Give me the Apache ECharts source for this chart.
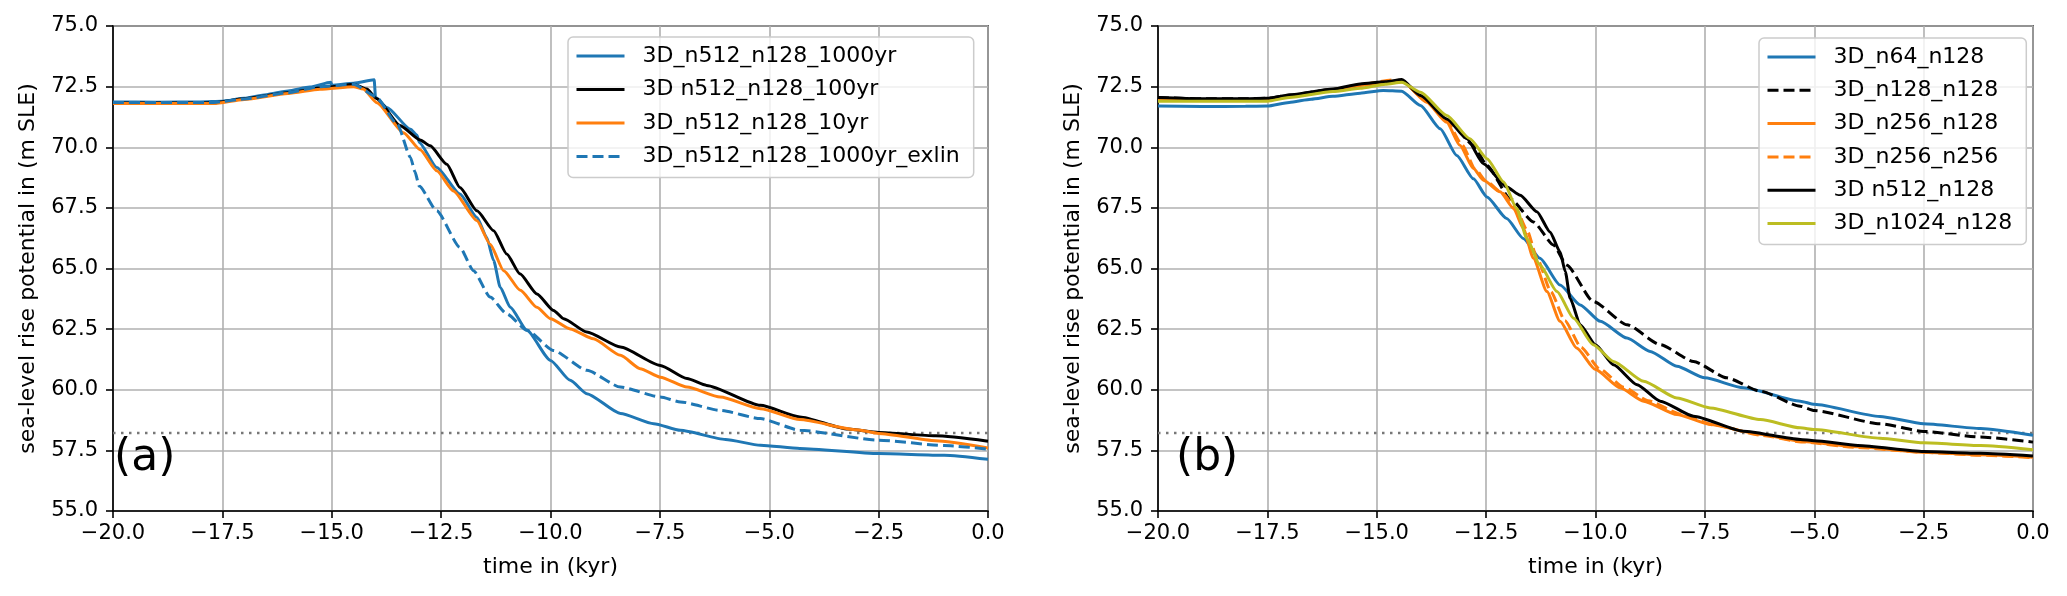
<!DOCTYPE html>
<html>
<head>
<meta charset="utf-8">
<script src="https://cdn.jsdelivr.net/npm/echarts@6/dist/echarts.min.js"></script>
<style>
html,body{margin:0;padding:0;background:#fff;}
#chart{width:2067px;height:596px;}
</style>
</head>
<body>
<div id="chart"></div>
<script>
// ---------- data (time in kyr, sea-level rise potential in m SLE) ----------
const xTicks = [-20, -17.5, -15, -12.5, -10, -7.5, -5, -2.5, 0];
const yTicks = [55, 57.5, 60, 62.5, 65, 67.5, 70, 72.5, 75];
const referenceLevel = 58.22;

// panel (a)
const a_n512_1000yr = [[-20,71.87],[-19,71.86],[-18,71.87],[-17.5,71.9],[-17,72.02],[-16.5,72.17],[-16,72.32],[-15.5,72.48],[-15.02,72.68],[-15.0,72.55],[-14.5,72.64],[-14.03,72.78],[-14.0,72.05],[-13.74,71.64],[-13.2,70.74],[-13.05,70.5],[-13.0,70.2],[-12.6,69.17],[-12.07,68.07],[-11.68,67.1],[-11.46,66.29],[-11.3,65.33],[-11.15,64.23],[-10.92,63.4],[-10.54,62.45],[-10.0,61.21],[-9.55,60.39],[-9.17,59.84],[-8.4,59.02],[-7.64,58.6],[-7.03,58.33],[-6.0,57.95],[-5.2,57.71],[-4.3,57.58],[-2.5,57.37],[-1.0,57.3],[0,57.13]];
const a_n512_100yr = [[-20,71.82],[-18.5,71.82],[-17.7,71.83],[-17,72.0],[-16,72.25],[-15.2,72.45],[-14.5,72.6],[-14.2,72.4],[-13.97,72.0],[-13.44,70.9],[-12.98,70.3],[-12.75,70.06],[-12.37,69.3],[-12.07,68.34],[-11.68,67.38],[-11.3,66.56],[-11.0,65.6],[-10.7,64.78],[-10.31,63.95],[-9.93,63.27],[-9.7,62.93],[-9.17,62.38],[-8.4,61.76],[-7.49,61.0],[-6.88,60.46],[-6.43,60.18],[-5.2,59.36],[-4.3,58.88],[-3.2,58.38],[-2.5,58.24],[-1.2,58.1],[0,57.88]];
const a_n512_10yr = [[-20,71.8],[-17.7,71.8],[-17,71.97],[-16,72.22],[-15.27,72.39],[-14.5,72.5],[-14.28,72.4],[-13.97,71.84],[-13.36,70.6],[-12.98,69.9],[-12.6,69.03],[-12.22,68.2],[-11.68,66.97],[-11.38,66.0],[-11.07,64.91],[-10.69,64.1],[-10.31,63.4],[-10.0,62.93],[-9.55,62.51],[-9.02,62.1],[-8.4,61.42],[-7.95,60.87],[-7.49,60.52],[-6.88,60.11],[-6.12,59.7],[-5.2,59.22],[-4.3,58.77],[-3.0,58.35],[-2.5,58.2],[-1.2,57.9],[0,57.6]];
const a_n512_1000yr_exlin = [[-20,71.85],[-17.7,71.85],[-17,71.99],[-16,72.25],[-15.27,72.5],[-14.5,72.6],[-14.0,72.1],[-13.5,70.95],[-13.2,69.58],[-13.1,69.0],[-13.0,68.4],[-12.6,67.38],[-12.07,65.87],[-11.76,64.91],[-11.38,63.82],[-11.0,63.13],[-10.54,62.45],[-9.93,61.62],[-9.17,60.8],[-8.4,60.11],[-7.49,59.7],[-7.03,59.5],[-6.12,59.15],[-5.2,58.81],[-4.3,58.33],[-2.5,57.92],[-1.0,57.7],[0,57.55]];

// panel (b)
const b_n64_n128 = [[-20,71.7],[-19,71.68],[-18,71.69],[-17.5,71.7],[-17,71.85],[-16.5,71.98],[-16,72.1],[-15.38,72.23],[-14.85,72.34],[-14.43,72.31],[-14.0,71.72],[-13.55,70.76],[-13.17,69.66],[-12.79,68.7],[-12.48,67.95],[-12.03,67.06],[-11.65,66.24],[-11.27,65.42],[-10.81,64.32],[-10.35,63.5],[-9.89,62.82],[-9.28,62.13],[-8.75,61.58],[-8.14,60.97],[-7.5,60.49],[-6.62,60.08],[-5.32,59.53],[-5.0,59.4],[-3.5,58.9],[-2.5,58.6],[-1.2,58.4],[0,58.12]];
const b_n128_n128 = [[-20,72.05],[-19,72.0],[-18,72.0],[-17.5,72.02],[-17,72.15],[-16,72.38],[-15.38,72.55],[-14.8,72.68],[-14.43,72.75],[-14.0,72.13],[-13.32,71.03],[-12.79,70.08],[-12.48,69.25],[-11.95,67.88],[-11.42,66.92],[-10.96,65.97],[-10.66,65.14],[-10.05,63.64],[-9.28,62.68],[-8.52,61.86],[-7.76,61.17],[-7.0,60.49],[-6.23,59.94],[-5.32,59.32],[-5.0,59.14],[-3.5,58.6],[-2.5,58.28],[-1.2,58.05],[0,57.84]];
const b_n256_n128 = [[-20,71.95],[-17.5,71.95],[-17,72.08],[-16,72.35],[-15.38,72.55],[-14.62,72.72],[-14.39,72.68],[-13.86,71.86],[-13.4,71.03],[-13.1,70.08],[-12.79,69.12],[-12.56,68.64],[-12.18,68.16],[-11.87,67.47],[-11.65,66.65],[-11.42,65.42],[-11.11,64.05],[-10.81,62.82],[-10.43,61.72],[-10.0,60.83],[-9.44,60.08],[-8.9,59.53],[-8.14,58.98],[-7.38,58.57],[-6.23,58.16],[-5.32,57.88],[-4.0,57.65],[-2.5,57.42],[-1.2,57.32],[0,57.22]];
const b_n256_n256 = [[-20,71.97],[-17.5,71.97],[-17,72.1],[-16,72.38],[-15.38,72.58],[-14.62,72.78],[-14.39,72.7],[-13.86,71.9],[-13.4,71.08],[-13.05,70.1],[-12.75,69.1],[-12.5,68.6],[-12.12,68.1],[-11.8,67.4],[-11.57,66.6],[-11.33,65.4],[-11.02,64.05],[-10.7,62.85],[-10.33,61.75],[-9.9,60.85],[-9.35,60.1],[-8.8,59.55],[-8.05,59.0],[-7.3,58.55],[-6.2,58.12],[-5.3,57.85],[-4.0,57.62],[-2.5,57.42],[-1.2,57.3],[0,57.2]];
const b_n512_n128 = [[-20,72.05],[-19,72.0],[-18,72.0],[-17.5,72.02],[-17,72.15],[-16,72.4],[-15.38,72.61],[-14.8,72.7],[-14.43,72.79],[-14.0,72.13],[-13.4,71.17],[-12.94,70.35],[-12.56,69.32],[-12.03,68.36],[-11.72,68.02],[-11.34,67.34],[-11.04,66.51],[-10.81,65.69],[-10.69,64.87],[-10.58,63.77],[-10.35,62.68],[-10.0,61.86],[-9.59,61.03],[-9.05,60.21],[-8.52,59.53],[-7.76,58.91],[-6.62,58.29],[-5.32,57.95],[-5.0,57.9],[-4.0,57.7],[-2.5,57.45],[-1.2,57.38],[0,57.27]];
const b_n1024_n128 = [[-20,71.9],[-17.5,71.9],[-17,72.05],[-16,72.3],[-15.38,72.43],[-14.8,72.6],[-14.43,72.68],[-14.0,72.27],[-13.4,71.31],[-12.87,70.35],[-12.48,69.53],[-12.1,68.57],[-11.8,67.47],[-11.57,66.24],[-11.27,65.14],[-10.88,64.05],[-10.5,62.95],[-10.05,61.86],[-9.59,61.17],[-8.9,60.35],[-8.14,59.66],[-7.38,59.25],[-6.23,58.77],[-5.32,58.43],[-5.0,58.36],[-3.5,58.0],[-2.5,57.81],[-1.2,57.7],[0,57.53]];

// ---------- styling / build ----------
const FONT = 'DejaVu Sans';
const BLUE = '#1f77b4', ORANGE = '#ff7f0e', BLACK = '#000000', OLIVE = '#bcbd22';
const LW = 3;
const DASH = [11, 5];

function fmt(v){ return (v < 0 ? '\u2212' : '') + Math.abs(v).toFixed(1); }

function xAxisFor(i){
  return {
    type:'value', gridIndex:i, min:xTicks[0], max:xTicks[xTicks.length-1], interval:2.5,
    name:'time in (kyr)', nameLocation:'middle', nameGap:45,
    nameTextStyle:{fontFamily:FONT, fontSize:22, color:'#000'},
    axisLine:{show:true, onZero:false, lineStyle:{color:'#000', width:1.6}},
    axisTick:{show:true, inside:false, length:7, lineStyle:{color:'#000', width:1.6}},
    axisLabel:{show:true, margin:12, fontFamily:FONT, fontSize:21, color:'#000', formatter:fmt, showMinLabel:true, showMaxLabel:true},
    splitLine:{show:true, lineStyle:{color:'#b0b0b0', width:1.6}}
  };
}
function yAxisFor(i){
  return {
    type:'value', gridIndex:i, min:yTicks[0], max:yTicks[yTicks.length-1], interval:2.5,
    name:'sea-level rise potential in (m SLE)', nameLocation:'middle', nameGap:74,
    nameTextStyle:{fontFamily:FONT, fontSize:22, color:'#000'},
    axisLine:{show:true, onZero:false, lineStyle:{color:'#000', width:1.6}},
    axisTick:{show:true, inside:false, length:7, lineStyle:{color:'#000', width:1.6}},
    axisLabel:{show:true, margin:15, fontFamily:FONT, fontSize:21, color:'#000', formatter:fmt, showMinLabel:true, showMaxLabel:true},
    splitLine:{show:true, lineStyle:{color:'#b0b0b0', width:1.6}}
  };
}
function line(name, data, color, dashed, gi){
  return {
    type:'line', name:name, data:data, xAxisIndex:gi, yAxisIndex:gi,
    showSymbol:false, symbol:'none', smooth:0.2, smoothMonotone:'x', silent:true,
    lineStyle:{color:color, width:LW, type: dashed ? DASH : 'solid'},
    itemStyle:{color:color}
  };
}
function refLine(gi){
  return {
    type:'line', name:'ref'+gi, data:[[xTicks[0], referenceLevel],[xTicks[xTicks.length-1], referenceLevel]],
    xAxisIndex:gi, yAxisIndex:gi, showSymbol:false, symbol:'none', silent:true, z:1,
    lineStyle:{color:'#777777', width:2.5, type:[2.5,5.5]}
  };
}

const legendCommon = {
  orient:'vertical', itemWidth:48, itemHeight:14, itemGap:11.5,
  backgroundColor:'rgba(255,255,255,0.8)', borderColor:'#cccccc', borderWidth:1.5, borderRadius:5,
  textStyle:{fontFamily:FONT, fontSize:22, color:'#000', lineHeight:22, padding:[0,0,0,13]},
  itemStyle:{opacity:0},
  lineStyle:{width:LW},
  selectedMode:false
};

const chart = echarts.init(document.getElementById('chart'), null, {renderer:'canvas'});
chart.setOption({
  animation:false,
  backgroundColor:'#ffffff',
  grid:[
    {left:113, top:26, width:875, height:485, show:true, borderColor:'#000', borderWidth:1.6, backgroundColor:'transparent'},
    {left:1158, top:26, width:875, height:485, show:true, borderColor:'#000', borderWidth:1.6, backgroundColor:'transparent'}
  ],
  xAxis:[xAxisFor(0), xAxisFor(1)],
  yAxis:[yAxisFor(0), yAxisFor(1)],
  legend:[
    Object.assign({}, legendCommon, {left:568, top:37, padding:[8,14,10,7],
      data:['3D_n512_n128_1000yr','3D n512_n128_100yr','3D_n512_n128_10yr','3D_n512_n128_1000yr_exlin']}),
    Object.assign({}, legendCommon, {left:1759, top:38, itemGap:11.3, padding:[8,14,10,7],
      data:['3D_n64_n128','3D_n128_n128','3D_n256_n128','3D_n256_n256','3D n512_n128','3D_n1024_n128']})
  ],
  graphic:[
    {type:'text', left:114, top:437, z:100, style:{text:'(a)', fontFamily:FONT, fontSize:44, fill:'#000'}},
    {type:'text', left:1176, top:437, z:100, style:{text:'(b)', fontFamily:FONT, fontSize:44, fill:'#000'}}
  ],
  series:[
    refLine(0),
    line('3D_n512_n128_1000yr', a_n512_1000yr, BLUE, false, 0),
    line('3D n512_n128_100yr', a_n512_100yr, BLACK, false, 0),
    line('3D_n512_n128_10yr', a_n512_10yr, ORANGE, false, 0),
    line('3D_n512_n128_1000yr_exlin', a_n512_1000yr_exlin, BLUE, true, 0),
    refLine(1),
    line('3D_n64_n128', b_n64_n128, BLUE, false, 1),
    line('3D_n128_n128', b_n128_n128, BLACK, true, 1),
    line('3D_n256_n128', b_n256_n128, ORANGE, false, 1),
    line('3D_n256_n256', b_n256_n256, ORANGE, true, 1),
    line('3D n512_n128', b_n512_n128, BLACK, false, 1),
    line('3D_n1024_n128', b_n1024_n128, OLIVE, false, 1)
  ]
});
</script>
</body>
</html>
